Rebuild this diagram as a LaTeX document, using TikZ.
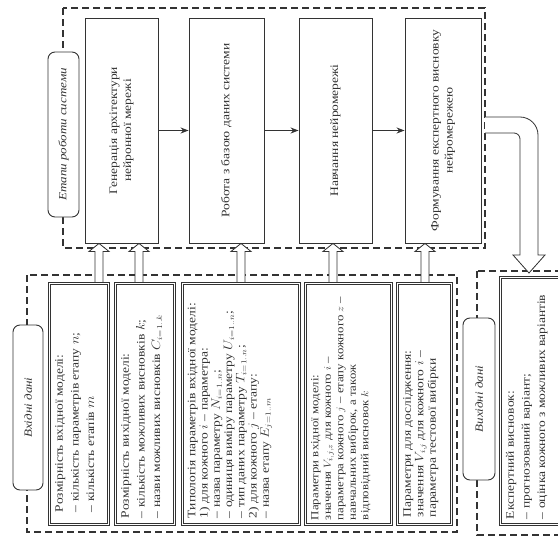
\documentclass[tikz,border=0pt]{standalone}
\usepackage{fontspec}
\setmainfont{Liberation Serif}
\usetikzlibrary{arrows.meta,calc}
\pgfdeclarelayer{grplayer}
\pgfdeclarelayer{arrlayer}
\pgfsetlayers{grplayer,arrlayer,main}
\newcommand\boxtxt[3]{\rotatebox{90}{\scalebox{1}[0.85]{\parbox[c][#1][t]{#2}{\raggedright #3}}}}
\newcommand\midtxt[2]{\rotatebox{90}{\scalebox{1}[0.85]{\parbox{#1}{\centering #2}}}}
\definecolor{ink}{gray}{0.2}
\begin{document}
\begin{tikzpicture}[x=1pt,y=-1pt,
  stage/.style={draw=ink, line width=0.9pt, inner sep=0pt, text=ink, font=\fontsize{13.5}{16.5}\selectfont},
  inbox/.style={draw=ink, line width=0.7pt, inner sep=0pt, text=ink},
  innerframe/.style={draw=ink, line width=0.7pt},
  grp/.style={draw=ink, line width=1.1pt, dash pattern=on 7pt off 4pt},
  tag/.style={draw=ink, fill=white, rounded corners=7pt, line width=0.9pt, inner sep=0pt, text=ink, font=\fontsize{13}{15}\selectfont\itshape},
  flow/.style={draw=ink, line width=0.9pt, -{Stealth[length=8pt,width=6pt]}},
  hollow/.style={draw=ink, fill=white, line width=0.8pt}]
\path[use as bounding box] (0,0) rectangle (558,538);

% stage boxes
\node[stage, minimum width=73pt, minimum height=225pt] (t1) at (121.5,130.5) {\midtxt{215pt}{Генерація архітектури\\нейронної мережі}};
\node[stage, minimum width=75pt, minimum height=225pt] (t2) at (226.5,130.5) {\midtxt{215pt}{Робота з базою даних системи}};
\node[stage, minimum width=73pt, minimum height=225pt] (t3) at (335.5,130.5) {\midtxt{215pt}{Навчання нейромережі}};
\node[stage, minimum width=76pt, minimum height=225pt] (t4) at (443,130.5) {\midtxt{215pt}{Формування експертного висновку\\нейромережею}};

\draw[flow] (t1.east) -- (t2.west);
\draw[flow] (t2.east) -- (t3.west);
\draw[flow] (t3.east) -- (t4.west);

% input boxes
\node[inbox, font=\fontsize{13.5}{18.5}\selectfont, minimum width=61pt, minimum height=243pt] (b1) at (79,404)
  {\boxtxt{56pt}{216pt}{Розмірність вхідної моделі:\\– кількість параметрів етапу $n$;\\– кількість етапів $m$}};
\node[inbox, font=\fontsize{13.5}{18.5}\selectfont, minimum width=61pt, minimum height=243pt] (b2) at (145,404)
  {\boxtxt{56pt}{228pt}{Розмірність вихідної моделі:\\– кількість можливих висновків $k$;\\– назви можливих висновків $C_{i=1..k}$}};
\node[inbox, font=\fontsize{13.5}{14.4}\selectfont, minimum width=119pt, minimum height=243pt] (b3) at (241,404)
  {\boxtxt{125pt}{228pt}{Типологія параметрів вхідної моделі:\\1) для кожного $i$ – параметра:\\– назва параметру $N_{i=1..n}$;\\– одиниця виміру параметру $U_{i=1..n}$;\\– тип даних параметру $T_{i=1..n}$;\\2) для кожного $j$ – етапу:\\– назва етапу $E_{j=1..m}$}};
\node[inbox, font=\fontsize{12.8}{14.7}\selectfont, minimum width=88pt, minimum height=243pt] (b4) at (348.5,404)
  {\boxtxt{88pt}{232pt}{Параметри вхідної моделі:\\значення $V_{i,j,z}$ для кожного $i$ –\\параметра кожного $j$ – етапу кожного $z$ –\\навчальних вибірок, а також\\відповідний висновок $k$}};
\node[inbox, font=\fontsize{13.5}{14.7}\selectfont, minimum width=56pt, minimum height=243pt] (b5) at (424.5,404)
  {\boxtxt{50pt}{226pt}{Параметри для дослідження:\\значення $V_{i,j}$ для кожного $i$ –\\параметра тестової вибірки}};
% output box
\node[inbox, font=\fontsize{13.5}{18.5}\selectfont, minimum width=63pt, minimum height=249pt] (r1) at (531,401)
  {\boxtxt{59pt}{236pt}{Експертний висновок:\\– прогнозований варіант;\\– оцінка кожного з можливих варіантів}};
\foreach \n in {b1,b2,b3,b4,b5,r1}
  \draw[innerframe] ($(\n.south west)+(2.3,-2.3)$) rectangle ($(\n.north east)+(-2.3,2.3)$);

% group frames and tags
\begin{pgfonlayer}{grplayer}
\draw[grp] (63,8) rectangle (485,248);
\draw[grp] (27,275) rectangle (457,532);
\draw[grp] (477,271) rectangle (580,535);
\end{pgfonlayer}
\coordinate (gR) at (485,0);
\node[tag, minimum width=31pt, minimum height=165pt] (lab1) at (63.5,134.5) {\rotatebox{90}{\scalebox{1}[0.85]{Етапи роботи системи}}};
\node[tag, minimum width=30pt, minimum height=165pt] (lab2) at (28,407.5) {\rotatebox{90}{\scalebox{1}[0.85]{Вхідні дані}}};
\node[tag, minimum width=32pt, minimum height=162pt] (lab3) at (479,399) {\rotatebox{90}{\scalebox{1}[0.85]{Вихідні дані}}};

% hollow arrows
\newcommand\hollowup[3]{%
  \draw[hollow] let \p1=(#2.north), \p2=(#3.south) in
   (#1pt-4pt,\y1) -- (#1pt-4pt,\y2-8pt) -- (#1pt-10pt,\y2-8pt) -- (#1pt,\y2)
   -- (#1pt+10pt,\y2-8pt) -- (#1pt+4pt,\y2-8pt) -- (#1pt+4pt,\y1);}
\begin{pgfonlayer}{arrlayer}
\hollowup{99}{b1}{t1}
\hollowup{139}{b2}{t1}
\hollowup{241}{b3}{t2}
\hollowup{333}{b4}{t3}
\hollowup{425}{b5}{t4}
\draw[hollow] (gR |- 0,117) -- (520,117) arc[start angle=90, end angle=0, radius=18pt]
  -- (538,255) -- (545,255) -- (529,273) -- (513,255) -- (520,255) -- (520,139)
  arc[start angle=0, end angle=90, radius=6pt] -- (gR |- 0,133);
\end{pgfonlayer}
\end{tikzpicture}
\end{document}
